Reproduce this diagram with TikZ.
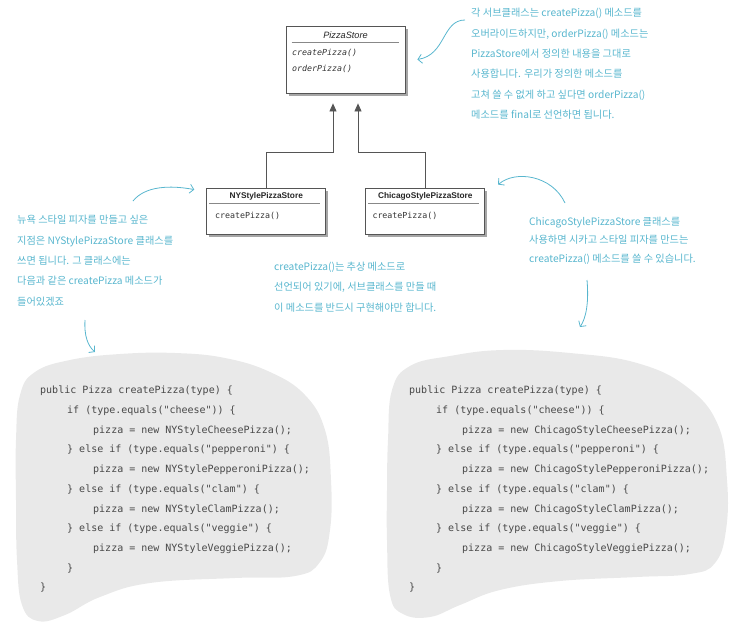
\documentclass[tikz,border=0pt]{standalone}
\usepackage{fontspec}
\setmainfont{Liberation Sans}
\newfontfamily\handfont{Noto Sans CJK KR}
\newfontfamily\codefont{DejaVu Sans Mono}
\usepackage{tikz}
\usetikzlibrary{arrows.meta,shadows,positioning}
\definecolor{noteblue}{RGB}{88,182,206}
\definecolor{blobgray}{RGB}{233,233,233}
\definecolor{codegray}{RGB}{72,72,72}
\definecolor{umlgray}{RGB}{85,85,85}
\newcommand{\pizzacode}[1]{public Pizza createPizza(type) \{\\
  \hspace*{27pt}if (type.equals("cheese")) \{\\
  \hspace*{53pt}pizza = new #1CheesePizza();\\
  \hspace*{27pt}\} else if (type.equals("pepperoni") \{\\
  \hspace*{53pt}pizza = new #1PepperoniPizza();\\
  \hspace*{27pt}\} else if (type.equals("clam") \{\\
  \hspace*{53pt}pizza = new #1ClamPizza();\\
  \hspace*{27pt}\} else if (type.equals("veggie") \{\\
  \hspace*{53pt}pizza = new #1VeggiePizza();\\
  \hspace*{27pt}\}\\
  \}}

\begin{document}
\begin{tikzpicture}[x=1pt, y=-1pt,
    umlbox/.style={draw=umlgray, fill=white, line width=0.8pt, minimum width=119pt,
        drop shadow={shadow xshift=2.5pt, shadow yshift=-2.5pt, fill=black!35, opacity=1}},
    umlsep/.style={draw=umlgray!70, line width=0.5pt},
    umltitle/.style={inner sep=0pt, text=black!85, font=\fontsize{8.3}{10}\selectfont\bfseries},
    umlmethod/.style={inner sep=0pt, anchor=west, text=black!80, font=\codefont\fontsize{8.3}{10}\selectfont},
    inherit/.style={draw=umlgray, line width=0.8pt, -{Triangle[width=7pt,length=8pt]}, shorten >=10pt},
    note/.style={inner sep=0pt, anchor=north west, align=left, text=noteblue,
        font=\handfont\fontsize{10.2}{20.4}\selectfont},
    noteline/.style={draw=noteblue, line width=0.8pt, -{Straight Barb[length=4pt,width=9pt]}},
    code/.style={inner sep=0pt, anchor=north west, align=left, text=codegray,
        font=\codefont\fontsize{10}{19.7}\selectfont}]
    \useasboundingbox (0,0) rectangle (754,637);

    % class diagram
    \node[umlbox, minimum height=67pt] (store) at (345.5,59.5) {};
    \node[umltitle, font=\fontsize{9.2}{10}\selectfont\itshape] (storename) at (345.5,35) {PizzaStore};
    \draw[umlsep] ([shift={(6,16.5)}]store.north west) -- ([shift={(-6,16.5)}]store.north east);
    \node[umlmethod, font=\codefont\itshape\fontsize{8.3}{10}\selectfont] (storecreate) at (292,53) {createPizza()};
    \node[umlmethod, font=\codefont\itshape\fontsize{8.3}{10}\selectfont] (storeorder) at (292,69) {orderPizza()};

    \node[umlbox, minimum height=46pt] (ny) at (266.2,211) {};
    \node[umltitle] (nyname) at (266.2,196.7) {NYStylePizzaStore};
    \draw[umlsep] ([shift={(3,16)}]ny.north west) -- ([shift={(-6,16)}]ny.north east);
    \node[umlmethod] (nycreate) at (215,215.7) {createPizza()};

    \node[umlbox, minimum height=46pt] (chicago) at (425.3,211) {};
    \node[umltitle] (chicagoname) at (425.3,196.7) {ChicagoStylePizzaStore};
    \draw[umlsep] ([shift={(3,16)}]chicago.north west) -- ([shift={(-6,16)}]chicago.north east);
    \node[umlmethod] (chicagocreate) at (372.3,215.7) {createPizza()};

    \coordinate (nyjoin) at (333,152);
    \coordinate (chicagojoin) at (358,152);
    \draw[inherit] (ny.north) |- (nyjoin) -- (nyjoin |- store.south);
    \draw[inherit] (chicago.north) |- (chicagojoin) -- (chicagojoin |- store.south);

    % code blobs
    \fill[blobgray] plot[smooth cycle, tension=0.7] coordinates {(16,440) (20,395) (35,372) (70,360)
        (120,354) (175,353) (225,358) (270,372) (305,395) (325,430) (331,480) (330,530) (320,562)
        (295,576) (235,578) (150,583) (100,597) (65,615) (38,621) (22,605) (17,560) (16,500)};
    \fill[blobgray] plot[smooth cycle, tension=0.7] coordinates {(388,440) (392,390) (410,366) (450,356)
        (503,350) (570,353) (637,363) (687,387) (718,425) (727,480) (726,530) (715,563) (690,574)
        (637,577) (560,581) (500,590) (460,605) (430,617) (403,614) (390,595) (387,540) (387,490)};
    \node[code] (nycode) at (40,386) {\pizzacode{NYStyle}};
    \node[code] (chicagocode) at (409,386) {\pizzacode{ChicagoStyle}};

    % notes
    \node[note] (topnote) at (471,8) {각 서브클래스는 createPizza() 메소드를\\
        오버라이드하지만, orderPizza() 메소드는\\
        PizzaStore에서 정의한 내용을 그대로\\
        사용합니다. 우리가 정의한 메소드를\\
        고쳐 쓸 수 없게 하고 싶다면 orderPizza()\\
        메소드를 final로 선언하면 됩니다.};
    \node[note] (nynote) at (17,215) {뉴욕 스타일 피자를 만들고 싶은\\
        지점은 NYStylePizzaStore 클래스를\\
        쓰면 됩니다. 그 클래스에는\\
        다음과 같은 createPizza 메소드가\\
        들어있겠죠};
    \node[note, font=\handfont\fontsize{10.2}{20.7}\selectfont] (abstractnote) at (274,261.5) {createPizza()는 추상 메소드로\\
        선언되어 있기에, 서브클래스를 만들 때\\
        이 메소드를 반드시 구현해야만 합니다.};
    \node[note, font=\handfont\fontsize{10.2}{18.7}\selectfont] (chicagonote) at (529,216.5) {ChicagoStylePizzaStore 클래스를\\
        사용하면 시카고 스타일 피자를 만드는\\
        createPizza() 메소드를 쓸 수 있습니다.};

    \coordinate (topnotetail) at (465,20);
    \coordinate (storehead) at ([xshift=12pt]store.east);
    \draw[noteline] (topnotetail) .. controls (442,20) and (446,55) .. (storehead);
    \coordinate (nynotetail) at (133,201);
    \coordinate (nyhead) at ([shift={(-12,2)}]ny.north west);
    \draw[noteline] (nynotetail) .. controls (145,186) and (170,185) .. (nyhead);
    \coordinate (chicagonotetail) at (565,203);
    \coordinate (chicagohead) at ([shift={(13,-3)}]chicago.north east);
    \draw[noteline] (chicagonotetail) .. controls (552,175) and (515,170) .. (chicagohead);
    \coordinate (nynotelow) at (85,320);
    \coordinate (nycodehead) at (95,352);
    \draw[noteline] (nynotelow) .. controls (84,336) and (88,346) .. (nycodehead);
    \coordinate (chicagonotelow) at (587,280);
    \coordinate (chicagocodehead) at (580,327);
    \draw[noteline] (chicagonotelow) .. controls (589,303) and (586,318) .. (chicagocodehead);
\end{tikzpicture}
\end{document}
